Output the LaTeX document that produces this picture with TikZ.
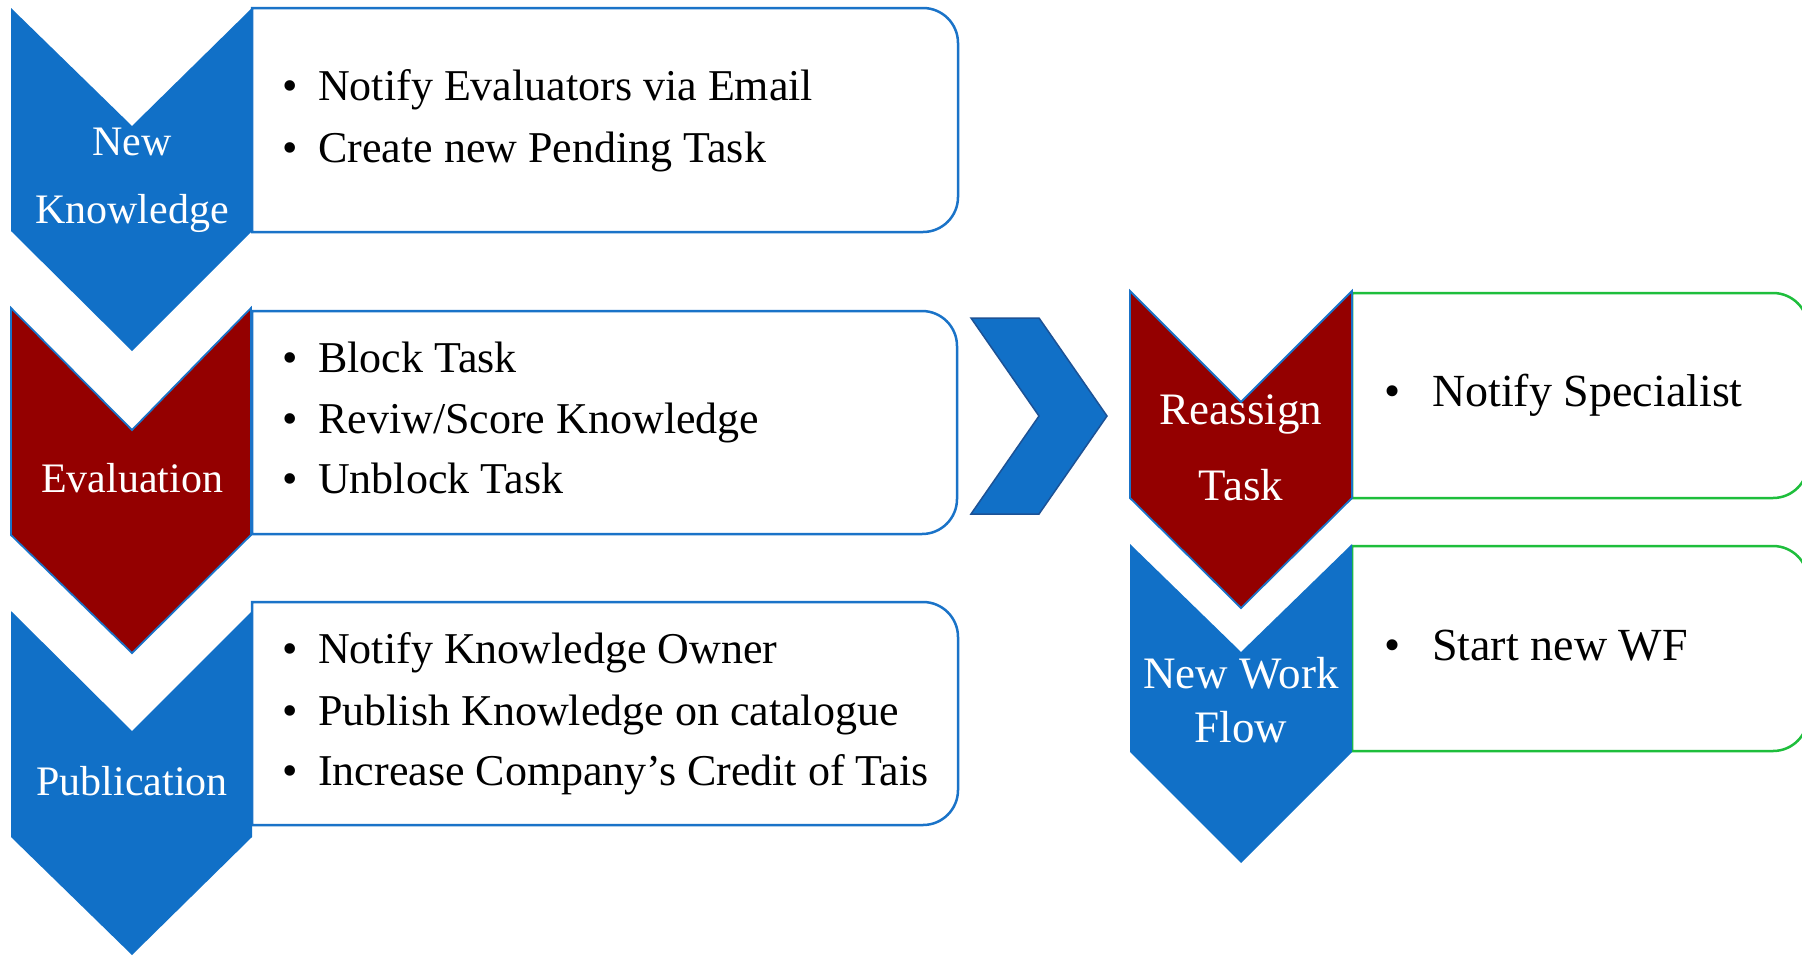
\documentclass[tikz,border=0pt]{standalone}
\usepackage{fontspec}
\setmainfont{Liberation Serif}
\definecolor{cblue}{RGB}{17,112,199}
\definecolor{cred}{RGB}{148,0,0}
\definecolor{cgreen}{RGB}{30,190,60}
\definecolor{cline}{RGB}{26,115,200}
\definecolor{cdark}{RGB}{28,82,150}
\begin{document}
\begin{tikzpicture}[x=1pt,y=-1pt,
  bluebox/.style={draw=cline,line width=2.5pt,fill=white},
  greenbox/.style={draw=cgreen,line width=2.5pt,fill=white},
  bluechev/.style={fill=cblue},
  redchev/.style={fill=cred,draw=cline,line width=1.8pt,line join=miter},
  rarrow/.style={fill=cblue,draw=cdark,line width=1.5pt},
  item/.style={anchor=base west,inner sep=0pt,font=\fontsize{44}{50}\selectfont},
  ritem/.style={anchor=base west,inner sep=0pt,font=\fontsize{46}{52}\selectfont},
  lab/.style={anchor=base,inner sep=0pt,text=white,font=\fontsize{42}{48}\selectfont},
  rlab/.style={anchor=base,inner sep=0pt,text=white,font=\fontsize{45}{50}\selectfont}]
\useasboundingbox (0,0) rectangle (1802,956);
\clip (0,0) rectangle (1802,956);
\fill[white] (0,0) rectangle (1802,956);

% boxes
\draw[bluebox] (252,232) -- (252,8) -- (880,8) [rounded corners=35pt] -- (958,8) -- (958,232) -- (880,232) [sharp corners] -- cycle;
\draw[bluebox] (252,534) -- (252,311) -- (880,311) [rounded corners=35pt] -- (957,311) -- (957,534) -- (880,534) [sharp corners] -- cycle;
\draw[bluebox] (252,825) -- (252,602) -- (880,602) [rounded corners=35pt] -- (958,602) -- (958,825) -- (880,825) [sharp corners] -- cycle;
\draw[greenbox] (1352,498) -- (1352,293) -- (1700,293) [rounded corners=35pt] -- (1808,293) -- (1808,498) -- (1700,498) [sharp corners] -- cycle;
\draw[greenbox] (1352,751) -- (1352,546) -- (1700,546) [rounded corners=35pt] -- (1808,546) -- (1808,751) -- (1700,751) [sharp corners] -- cycle;

% chevrons
\fill[bluechev] (11,8) -- (132,126) -- (252,8) -- (252,231) -- (132,351) -- (11,231) -- cycle;
\draw[redchev] (11,308) -- (132,430) -- (251,308) -- (251,535) -- (132,653) -- (11,535) -- cycle;
\fill[bluechev] (11,611) -- (132,731) -- (252,611) -- (252,837) -- (132,955) -- (11,837) -- cycle;
\draw[redchev] (1130,291) -- (1241,402) -- (1352,291) -- (1352,498) -- (1241,608) -- (1130,498) -- cycle;
\fill[bluechev] (1130,544) -- (1241,652) -- (1352,544) -- (1352,752) -- (1241,863) -- (1130,752) -- cycle;

% right arrow
\draw[rarrow] (971,318) -- (1039,318) -- (1107,416) -- (1039,514) -- (971,514) -- (1039,416) -- cycle;

% labels
\node[lab] (l1a) at (132,155) {New};
\node[lab] (l1b) at (132,223) {Knowledge};
\node[lab] (l2) at (132,492) {Evaluation};
\node[lab] (l3) at (132,795) {Publication};
\node[rlab] (l4a) at (1241,424) {Reassign};
\node[rlab] (l4b) at (1241,500) {Task};
\node[rlab] (l5a) at (1241,688) {New Work};
\node[rlab] (l5b) at (1241,742) {Flow};

% items
\node[item] (t11) at (282,100) {\makebox[36pt][l]{•}Notify Evaluators via Email};
\node[item] (t12) at (282,162) {\makebox[36pt][l]{•}Create new Pending Task};
\node[item] (t21) at (282,372) {\makebox[36pt][l]{•}Block Task};
\node[item] (t22) at (282,433) {\makebox[36pt][l]{•}Reviw/Score Knowledge};
\node[item] (t23) at (282,493) {\makebox[36pt][l]{•}Unblock Task};
\node[item] (t31) at (282,663) {\makebox[36pt][l]{•}Notify Knowledge Owner};
\node[item] (t32) at (282,725) {\makebox[36pt][l]{•}Publish Knowledge on catalogue};
\node[item] (t33) at (282,785) {\makebox[36pt][l]{•}Increase Company’s Credit of Tais};
\node[ritem] (t41) at (1384,406) {\makebox[48pt][l]{•}Notify Specialist};
\node[ritem] (t51) at (1384,660) {\makebox[48pt][l]{•}Start new WF};
\end{tikzpicture}
\end{document}
